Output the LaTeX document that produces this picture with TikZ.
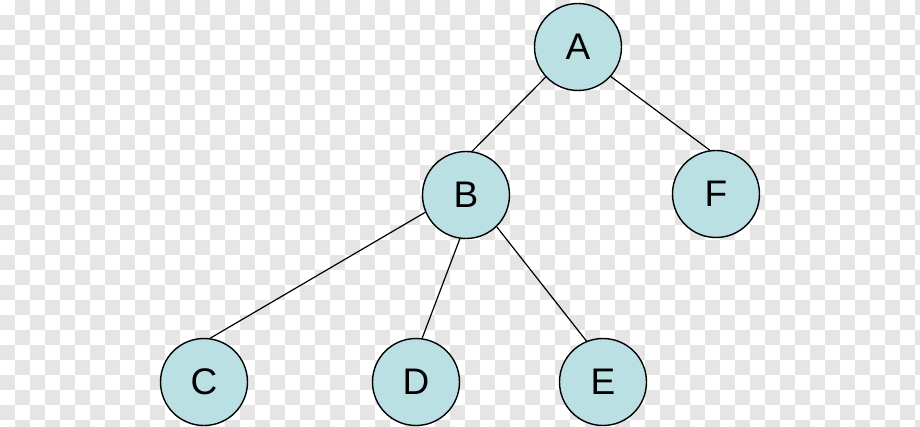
\documentclass[tikz,border=0pt]{standalone}
\usepackage{fontspec}
\setmainfont{Liberation Sans}
\usetikzlibrary{backgrounds}
\definecolor{nodefill}{HTML}{BBE0E3}
\definecolor{checkgray}{HTML}{E5E5E5}
\tikzset{
  treenode/.style={circle, draw=black, line width=1.4pt, fill=nodefill,
    minimum size=87pt, inner sep=0pt, font=\fontsize{37}{37}\selectfont},
  treeedge/.style={line width=1.2pt, draw=black}
}
\begin{document}
\begin{tikzpicture}[x=1pt, y=-1pt]
  \useasboundingbox (0,0) rectangle (920,427);
  % tree nodes
  \node[treenode] (A) at (578,47) {A};
  \node[treenode] (B) at (466,195) {B};
  \node[treenode] (F) at (716,194) {F};
  \node[treenode] (C) at (204,382) {C};
  \node[treenode] (D) at (416,382) {D};
  \node[treenode] (E) at (603,382) {E};
  \begin{scope}[on background layer]
    % checkerboard backdrop
    \begin{scope}
      \clip (0,0) rectangle (920,427);
      \fill[white] (0,0) rectangle (920,427);
      \foreach \i in {0,...,61} {
        \foreach \j in {0,...,28} {
          \pgfmathtruncatemacro\cellparity{mod(\i+\j,2)}
          \ifnum\cellparity=1
            \fill[checkgray] (\i*15,\j*15) rectangle ++(15,15);
          \fi
        }
      }
    \end{scope}
    % edges
    \draw[treeedge] (A.223) -- (B.82);
    \draw[treeedge] (A.318) -- (F.98);
    \draw[treeedge] (B.203) -- (C.82);
    \draw[treeedge] (B.262) -- (D.82);
    \draw[treeedge] (B.314) -- (E.112);
  \end{scope}
\end{tikzpicture}
\end{document}
